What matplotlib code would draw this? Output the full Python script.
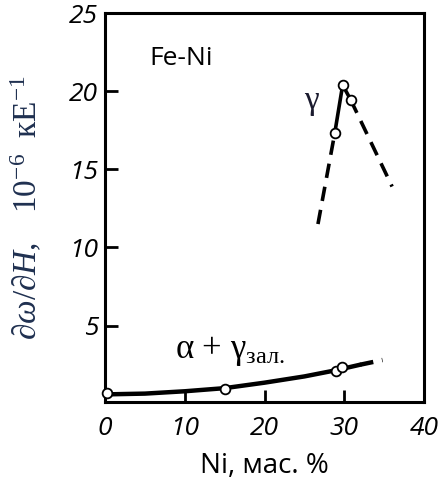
import matplotlib
matplotlib.use("Agg")
import matplotlib.pyplot as plt

# gamma branch: measured points and the dashed extensions
gamma_ni = [28.8, 29.8, 30.8]
gamma_val = [17.3, 20.4, 19.45]
gamma_left_dash_ni = [26.7, 28.8]
gamma_left_dash_val = [11.5, 17.3]
gamma_right_dash_ni = [30.8, 36.0]
gamma_right_dash_val = [19.45, 13.9]

# alpha + gamma (retained) branch
ag_curve_ni = [0, 5, 10, 15, 20, 25, 29, 32]
ag_curve_val = [0.6, 0.65, 0.8, 1.0, 1.35, 1.75, 2.15, 2.5]
ag_dash_ni = [32, 34.8]
ag_dash_val = [2.5, 2.8]
ag_pts_ni = [0.2, 15.0, 29.0, 29.7]
ag_pts_val = [0.7, 0.95, 2.1, 2.35]

x_ticks = [0, 10, 20, 30, 40]
y_ticks = [5, 10, 15, 20, 25]

sans = ["Open Sans", "DejaVu Sans"]
plt.rcParams["mathtext.fontset"] = "custom"
plt.rcParams["mathtext.rm"] = "Liberation Serif"
plt.rcParams["mathtext.it"] = "Liberation Serif:italic"

fig = plt.figure(figsize=(4.38, 4.84), dpi=100)
ax = fig.add_axes([0.240, 0.169, 0.728, 0.804])

# Curves
ax.plot(ag_curve_ni, ag_curve_val, color="black", lw=3.2, solid_capstyle="round")
ax.plot(ag_dash_ni, ag_dash_val, color="black", lw=3.2, dashes=(3, 2))
ax.plot(gamma_ni, gamma_val, color="black", lw=2.6)
ax.plot(gamma_left_dash_ni, gamma_left_dash_val, color="black", lw=2.6, dashes=(4, 2.5))
ax.plot(gamma_right_dash_ni, gamma_right_dash_val, color="black", lw=2.6, dashes=(4, 2.5))

# Open circle markers
ax.plot(gamma_ni, gamma_val, "o", ms=7, mfc="white", mec="black", mew=1.3, zorder=5)
ax.plot(ag_pts_ni, ag_pts_val, "o", ms=7, mfc="white", mec="black", mew=1.3, zorder=5,
        clip_on=False)

# Labels inside the chart
ax.text(5.6, 22.1, "Fe-Ni", fontsize=19, family=sans, va="center")
ax.text(25.9, 19.4, "γ", fontsize=24, family="Liberation Serif", color="#1a1a2e",
        va="center", ha="center")
ax.text(8.8, 3.4, "α + γ$_{\\mathrm{зал.}}$", fontsize=25, family="Liberation Serif",
        va="center")

ax.set_xlim(0, 40)
ax.set_ylim(0.1, 24.9)
ax.set_xticks(x_ticks)
ax.set_yticks(y_ticks)
ax.tick_params(direction="in", length=9, width=2, labelsize=19, pad=5)
ax.tick_params(axis="x", pad=10)
for lab in ax.get_xticklabels() + ax.get_yticklabels():
    lab.set_fontstyle("italic")
    lab.set_family(sans)
for s in ax.spines.values():
    s.set_linewidth(2.2)

ax.set_xlabel("Ni, мас. %", fontsize=20, family=sans, labelpad=8)
ax.set_ylabel("$\\partial\\omega/\\partial H,\\ \\ \\ 10^{-6}\\ \\ \\mathrm{кЕ}^{-1}$",
              fontsize=24, color="#1f3050")
ax.yaxis.set_label_coords(-0.19, 0.5)

fig.savefig("out.png", dpi=100)
